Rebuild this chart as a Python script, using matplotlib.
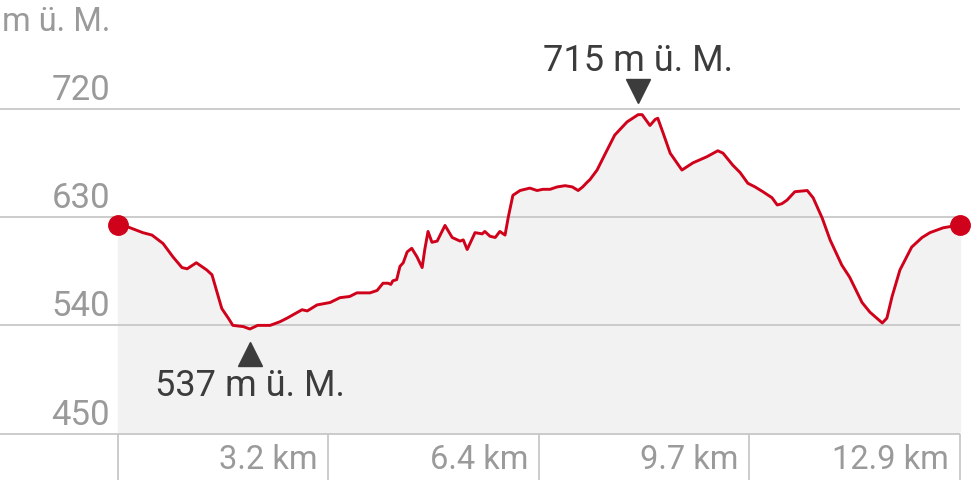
import matplotlib.pyplot as plt
import matplotlib.transforms as mtransforms
import numpy as np

# elevation profile (km, m above sea level)
distance_km = [0.00, 0.14, 0.38, 0.52, 0.69, 0.84, 0.98, 1.06, 1.20, 1.36,
               1.44, 1.52, 1.59, 1.69, 1.76, 1.92, 2.02, 2.14, 2.33, 2.48,
               2.59, 2.82, 2.90, 3.05, 3.25, 3.40, 3.55, 3.66, 3.86, 3.97,
               4.06, 4.14, 4.18, 4.21, 4.27, 4.32, 4.37, 4.43, 4.50, 4.58,
               4.66, 4.70, 4.75, 4.81, 4.89, 5.01, 5.12, 5.24, 5.29, 5.35,
               5.47, 5.58, 5.62, 5.70, 5.78, 5.85, 5.93, 5.98, 6.05, 6.16,
               6.31, 6.42, 6.51, 6.62, 6.73, 6.85, 6.96, 7.05, 7.12, 7.19,
               7.23, 7.34, 7.46, 7.61, 7.80, 7.97, 8.03, 8.15, 8.23, 8.27,
               8.35, 8.46, 8.64, 8.81, 9.02, 9.19, 9.27, 9.42, 9.53, 9.65,
               9.76, 9.88, 10.02, 10.10, 10.17, 10.25, 10.37, 10.56, 10.65, 10.79,
               10.91, 11.09, 11.21, 11.40, 11.52, 11.71, 11.78, 11.86, 11.98, 12.16,
               12.32, 12.44, 12.64, 12.85, 12.90]
elevation_m = [623, 622, 617, 615, 608, 597, 588, 587, 592, 586,
               582, 567, 554, 546, 540, 539, 537, 540, 540, 543,
               546, 553, 552, 557, 559, 563, 564, 567, 567, 569,
               575, 575, 574, 577, 578, 589, 592, 601, 604, 597,
               588, 603, 618, 609, 610, 623, 613, 610, 611, 603,
               617, 616, 618, 614, 613, 618, 615, 630, 648, 652,
               654, 652, 653, 653, 655, 656, 655, 652, 655, 659,
               661, 669, 682, 698, 709, 715, 715, 706, 711, 712,
               700, 683, 669, 675, 680, 685, 683, 673, 667, 658,
               655, 651, 646, 640, 641, 644, 651, 652, 646, 629,
               611, 590, 580, 559, 551, 542, 546, 564, 586, 605,
               613, 617, 621, 623, 623]

y_ticks = [450, 540, 630, 720]
x_ticks = [3.225, 6.45, 9.675, 12.9]
x_tick_labels = ["3.2 km", "6.4 km", "9.7 km", "12.9 km"]
unit_label = "m ü. M."

RED = "#d0021b"
GRID = "#c4c4c4"
LABEL = "#9a9a9a"
DARK = "#3c3c3c"
FONT = "Roboto"

fig = plt.figure(figsize=(9.74, 4.8), dpi=100)
ax = fig.add_axes([0, 0, 1, 1])
ax.set_xlim(-1.808, 13.115)
ax.set_ylim(411.6, 810.2)
ax.axis("off")

x = np.array(distance_km)
y = np.array(elevation_m)
x_end = x[-1]

# grey area under the profile
ax.fill_between(x, y, y_ticks[0], color="#f2f2f2", zorder=1)

# horizontal grid lines with labels on the left
for val in y_ticks:
    ax.hlines(val, -1.808, x_end, color=GRID, lw=1.2, zorder=2)
    ax.annotate(str(val), (0, val), xytext=(-8, 2), textcoords="offset pixels",
                ha="right", va="bottom", fontsize=25, color=LABEL, family=FONT)

# vertical ticks below the profile
for val in [0] + x_ticks:
    ax.vlines(val, 411.6, y_ticks[0], color=GRID, lw=1.2, zorder=2)
for val, lab in zip(x_ticks, x_tick_labels):
    ax.annotate(lab, (val, y_ticks[0]), xytext=(-11, -26), textcoords="offset pixels",
                ha="right", va="center", fontsize=23.5, color=LABEL, family=FONT)

ax.text(0.002, 0.988, unit_label, transform=ax.transAxes, ha="left", va="top",
        fontsize=23.5, color=LABEL, family=FONT)

# profile line with start and end dots
ax.plot(x, y, color=RED, lw=2.1, zorder=3, solid_joinstyle="round")
ax.plot([x[0], x[-1]], [y[0], y[-1]], "o", color=RED, ms=14, zorder=4)

# min / max markers
i_min = int(np.argmin(y))
i_max = int(np.argmax(y))
down = mtransforms.offset_copy(ax.transData, fig=fig, x=0, y=-25, units="dots")
up = mtransforms.offset_copy(ax.transData, fig=fig, x=0, y=24, units="dots")
ax.plot(x[i_min], y[i_min], "^", color=DARK, ms=17, transform=down, zorder=5)
ax.plot(x[i_max], y[i_max], "v", color=DARK, ms=17, transform=up, zorder=5)
ax.annotate(f"{y[i_min]} {unit_label}", (x[i_min], y[i_min]), xytext=(0, -57),
            textcoords="offset pixels", ha="center", va="center",
            fontsize=26, color=DARK, family=FONT)
ax.annotate(f"{y[i_max]} {unit_label}", (x[i_max], y[i_max]), xytext=(0, 54),
            textcoords="offset pixels", ha="center", va="center",
            fontsize=26, color=DARK, family=FONT)

fig.savefig("out.png", dpi=100)
